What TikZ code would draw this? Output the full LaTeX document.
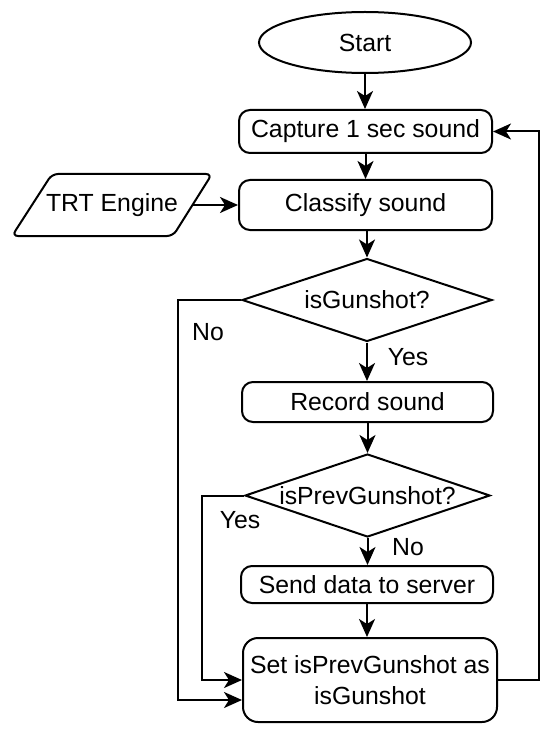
\documentclass[tikz,border=0pt]{standalone}
\usepackage{fontspec}
\setmainfont{Liberation Sans}
\usetikzlibrary{shapes.geometric,arrows.meta}
\begin{document}
\begin{tikzpicture}[x=1pt,y=-1pt,
  every node/.style={font=\fontsize{24.8}{31}\selectfont},
  line/.style={line width=2pt},
  arr/.style={line width=2pt,-{Stealth[length=18pt,width=16pt,inset=5pt]}},
  proc/.style={draw,line width=2pt,rounded corners=11pt,inner sep=0pt},
  dec/.style={draw,line width=2pt,shape=diamond,inner sep=0pt},
  lbl/.style={inner sep=0pt}]
\useasboundingbox (0,0) rectangle (550,735);
% nodes
\node[draw,line width=2pt,ellipse,minimum width=212pt,minimum height=61pt,inner sep=0pt] (start) at (365,42.5) {Start};
\node[proc,minimum width=253pt,minimum height=43pt] (cap) at (365.5,131.5) {Capture 1 sec sound};
\node[proc,minimum width=253pt,minimum height=50pt] (cls) at (365.5,205) {Classify sound};
\draw[line width=2pt,rounded corners=6pt] (12,236) -- (52,174) -- (212,174) -- (173,236) -- cycle;
\node[lbl] (trt) at (112,205) {TRT Engine};
\coordinate (trtE) at (192.5,205);
\node[dec,minimum width=250pt,minimum height=83pt] (d1) at (367,300) {};
\node[lbl] (d1t) at (d1.center) {isGunshot?};
\node[proc,minimum width=251pt,minimum height=40pt] (rec) at (367.5,402) {Record sound};
\node[dec,minimum width=245pt,minimum height=83pt] (d2) at (367.5,495.5) {};
\node[lbl] (d2t) at (d2.center) {isPrevGunshot?};
\node[proc,minimum width=252pt,minimum height=37pt] (send) at (367,584.5) {Send data to server};
\node[proc,rounded corners=15pt,minimum width=254pt,minimum height=84pt,align=center] (set) at (370,680) {Set isPrevGunshot as\\isGunshot};
% labels
\node[lbl] (no1) at (208,332) {No};
\node[lbl] (yes1) at (408,357) {Yes};
\node[lbl] (yes2) at (240,520) {Yes};
\node[lbl] (no2) at (408,547) {No};
% connectors
\coordinate (r1) at (539,680);
\coordinate (r2) at (539,131.5);
\coordinate (l1) at (178,300);
\coordinate (l1b) at (178,700);
\coordinate (l2) at (202,495.5);
\coordinate (l2b) at (202,680);
\draw[arr] (start.south) -- (start.south |- cap.north);
\draw[arr] (cap.south) -- (cap.south |- cls.north);
\draw[arr] (trtE) -- (cls.west);
\draw[arr] (cls.south -| d1.north) -- (d1.north);
\draw[arr] (d1.south) -- (d1.south |- rec.north);
\draw[arr] (rec.south) -- (rec.south |- d2.north);
\draw[arr] (d2.south) -- (d2.south |- send.north);
\draw[arr] (send.south) -- (send.south |- set.north);
\draw[arr] (set.east) -- (r1) -- (r2) -- (cap.east);
\draw[arr] (d1.west) -- (l1) -- (l1b) -- (l1b -| set.west);
\draw[arr] (d2.west) -- (l2) -- (l2b) -- (l2b -| set.west);
\end{tikzpicture}
\end{document}
